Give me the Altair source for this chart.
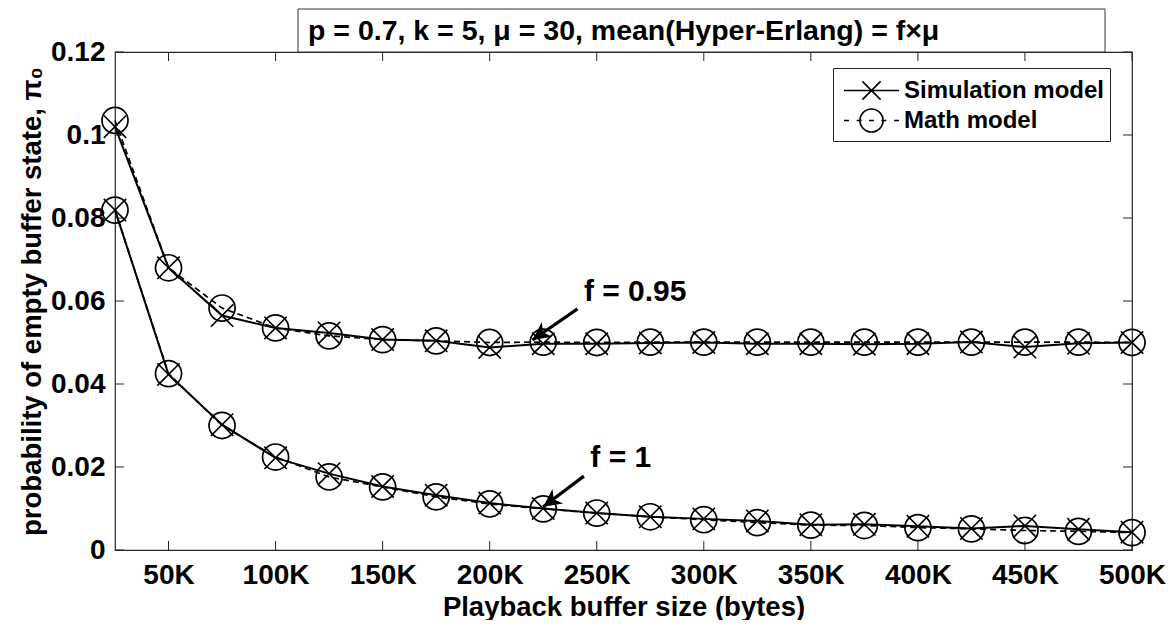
import altair as alt
import pandas as pd

# ---------------- data ----------------
buffer_k = [25, 50, 75, 100, 125, 150, 175, 200, 225, 250,
            275, 300, 325, 350, 375, 400, 425, 450, 475, 500]

sim_f095 = [0.1020, 0.0680, 0.0565, 0.0535, 0.0523, 0.0507, 0.0504, 0.0488, 0.0497, 0.0497,
            0.0499, 0.0500, 0.0497, 0.0497, 0.0496, 0.0497, 0.0501, 0.0489, 0.0498, 0.0500]
math_f095 = [0.1035, 0.0680, 0.0583, 0.0535, 0.0516, 0.0507, 0.0504, 0.0500, 0.0501, 0.0500,
             0.0501, 0.0501, 0.0501, 0.0501, 0.0501, 0.0501, 0.0501, 0.0501, 0.0501, 0.0500]
sim_f1 = [0.0819, 0.0423, 0.0302, 0.0222, 0.0184, 0.0153, 0.0132, 0.0113, 0.0100, 0.0089,
          0.0080, 0.0075, 0.0070, 0.0061, 0.0062, 0.0057, 0.0052, 0.0058, 0.0050, 0.0043]
math_f1 = [0.0819, 0.0425, 0.0300, 0.0224, 0.0176, 0.0152, 0.0128, 0.0111, 0.0099, 0.0089,
           0.0080, 0.0073, 0.0066, 0.0060, 0.0059, 0.0054, 0.0051, 0.0047, 0.0045, 0.0042]

models = ["Simulation model", "Math model"]
x_tick_values = [50000, 100000, 150000, 200000, 250000, 300000, 350000, 400000, 450000, 500000]
y_tick_values = [0, 0.02, 0.04, 0.06, 0.08, 0.1, 0.12]

ann_text = ["f = 0.95", "f = 1"]
ann_text_x = [244000, 247000]
ann_text_y = [0.0622, 0.0222]
arrow_x_start = [241000, 244000]
arrow_y_start = [0.0581, 0.0178]
arrow_x_tip = [220000, 225000]
arrow_y_tip = [0.0506, 0.0104]

title_text = "p = 0.7, k = 5, \u03bc = 30, mean(Hyper-Erlang) = f\u00d7\u03bc"

# ---------------- tables ----------------
rows = []
for f_label, sim, mth in [("f = 0.95", sim_f095, math_f095), ("f = 1", sim_f1, math_f1)]:
    for xk, s, m in zip(buffer_k, sim, mth):
        rows.append({"x": xk * 1000, "p": s, "series": f_label, "model": models[0]})
        rows.append({"x": xk * 1000, "p": m, "series": f_label, "model": models[1]})
df = pd.DataFrame(rows)

ann = pd.DataFrame({"label": ann_text, "x": ann_text_x, "p": ann_text_y,
                    "x0": arrow_x_start, "p0": arrow_y_start,
                    "x1": arrow_x_tip, "p1": arrow_y_tip})
xt = pd.DataFrame({"x": x_tick_values})
yt = pd.DataFrame({"p": y_tick_values})

W, H = 1017, 498
FONT = "Liberation Sans"

xscale = alt.Scale(domain=[25000, 500000], nice=False, zero=False)
yscale = alt.Scale(domain=[0, 0.12], nice=False, zero=True)
xaxis = alt.Axis(values=x_tick_values, labelExpr="datum.value/1000 + 'K'",
                 title="Playback buffer size (bytes)", labelPadding=11, titlePadding=4,
                 labelFlush=False, labelOverlap=False)
yaxis = alt.Axis(values=y_tick_values, labelExpr="format(datum.value, '.2~f')",
                 title="probability of empty buffer state, \u03c0\u2080",
                 labelPadding=10, titlePadding=4, labelOverlap=False)

X = lambda f="x": alt.X(f"{f}:Q", scale=xscale, axis=xaxis)
Y = lambda f="p": alt.Y(f"{f}:Q", scale=yscale, axis=yaxis)

base = alt.Chart(df)

sim_lines = base.transform_filter(alt.datum.model == models[0]).mark_line(
    color="black", strokeWidth=2
).encode(x=X(), y=Y(), detail="series:N")

math_lines = base.transform_filter(alt.datum.model == models[1]).mark_line(
    color="black", strokeWidth=1.7, strokeDash=[6, 4]
).encode(x=X(), y=Y(), detail="series:N")

X_PATH = "M-1,-1L1,1M-1,1L1,-1"
sim_pts = base.transform_filter(alt.datum.model == models[0]).mark_point(
    shape=X_PATH, size=500, filled=False, color="black", strokeWidth=1.6, opacity=1
).encode(x=X(), y=Y())

math_pts = base.transform_filter(alt.datum.model == models[1]).mark_point(
    shape="circle", size=680, filled=False, color="black", strokeWidth=1.7, opacity=1
).encode(x=X(), y=Y())

# legend-only layer (invisible marks)
LEG_SIM = "M-1.667,0L1.667,0M-0.55,-0.55L0.55,0.55M-0.55,0.55L0.55,-0.55"
LEG_MATH = ("M-1.667,0L-1.367,0M-0.9,0L-0.6,0M-0.15,0L0.15,0M0.6,0L0.9,0M1.367,0L1.667,0"
            "M0.7,0A0.7,0.7 0 1 1 -0.7,0A0.7,0.7 0 1 1 0.7,0")
legend_layer = base.mark_point(filled=False, color="black", opacity=0, size=1089).encode(
    x=X(), y=Y(),
    shape=alt.Shape("model:N",
                    scale=alt.Scale(domain=models, range=[LEG_SIM, LEG_MATH]),
                    sort=models,
                    legend=alt.Legend(
                        title=None, orient="none", legendX=718, legendY=16,
                        symbolSize=1089, symbolStrokeWidth=1.6, symbolStrokeColor="black",
                        symbolFillColor="transparent", symbolOpacity=1,
                        labelFont=FONT, labelFontSize=24, labelFontWeight="bold",
                        labelColor="black", labelOffset=15, symbolOffset=16,
                        padding=5, rowPadding=0, strokeColor="#262626", fillColor="white",
                        labelLimit=500, cornerRadius=0,
                    )),
)

# annotations
ann_base = alt.Chart(ann)
ann_txt = ann_base.mark_text(align="left", baseline="middle", font=FONT, fontSize=30,
                             fontWeight="bold", color="black").encode(
    x=X(), y=Y(), text="label:N")
ann_shaft = ann_base.mark_rule(color="black", strokeWidth=3.2).encode(
    x=X("x0"), y=Y("p0"), x2="x1:Q", y2="p1:Q")
ann_head = ann_base.mark_point(shape="M0,0L0.5,1L0,0.72L-0.5,1Z", size=1300, filled=True,
                               color="black", opacity=1, angle=234).encode(
    x=X("x1"), y=Y("p1"))

# inward ticks
TL = 9
xt_top = alt.Chart(xt).mark_rule(color="#262626", strokeWidth=1).encode(
    x=X(), y=alt.value(0), y2=alt.value(TL))
xt_bot = alt.Chart(xt).mark_rule(color="#262626", strokeWidth=1).encode(
    x=X(), y=alt.value(H), y2=alt.value(H - TL))
yt_left = alt.Chart(yt).mark_rule(color="#262626", strokeWidth=1).encode(
    y=Y(), x=alt.value(0), x2=alt.value(TL))
yt_right = alt.Chart(yt).mark_rule(color="#262626", strokeWidth=1).encode(
    y=Y(), x=alt.value(W), x2=alt.value(W - TL))

# title box
one = alt.Data(values=[{"t": title_text}])
title_box = alt.Chart(one).mark_rect(fill="white", stroke="#333333", strokeWidth=1).encode(
    x=alt.value(183), x2=alt.value(990), y=alt.value(-43), y2=alt.value(0))
title_txt = alt.Chart(one).mark_text(align="left", baseline="middle", font=FONT, fontSize=28.5,
                                     fontWeight="bold", color="black").encode(
    x=alt.value(193), y=alt.value(-21), text="t:N")

chart = alt.layer(
    xt_top, xt_bot, yt_left, yt_right,
    math_lines, sim_lines, math_pts, sim_pts,
    ann_shaft, ann_head, ann_txt,
    legend_layer,
    title_box, title_txt,
).properties(
    width=W, height=H,
    autosize=alt.AutoSizeParams(type="none"),
    padding={"left": 107, "top": 44, "right": 34, "bottom": 70},
    background="white",
).configure_axis(
    grid=False, domain=False, ticks=False, tickSize=0,
    labelFont=FONT, labelFontSize=28, labelFontWeight="bold", labelColor="black",
    titleFont=FONT, titleFontSize=27.5, titleFontWeight="bold", titleColor="black",
).configure_view(stroke="#262626", strokeWidth=1.2)

chart.save("out.html", embed_options={"renderer": "svg", "actions": False})
